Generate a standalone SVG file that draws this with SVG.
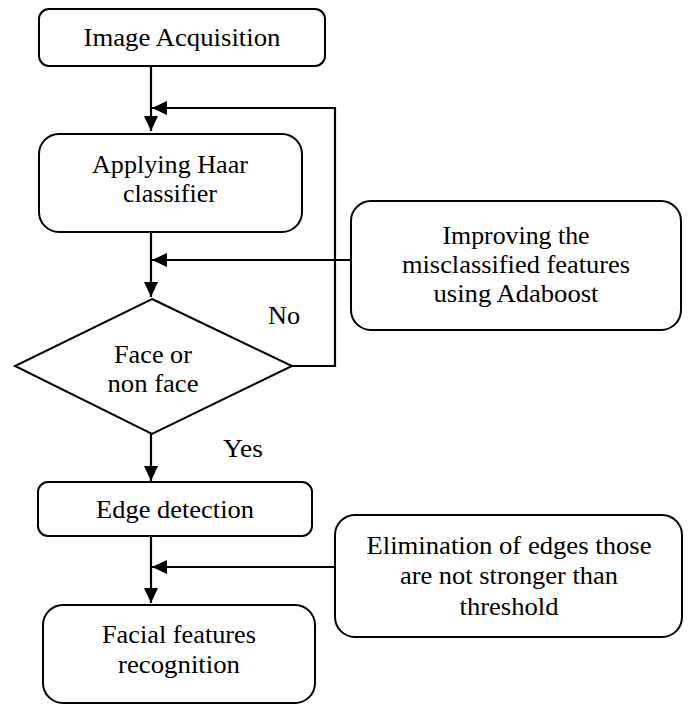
<svg xmlns="http://www.w3.org/2000/svg" width="688" height="705" viewBox="0 0 688 705" font-family="'Liberation Serif', 'DejaVu Serif', serif">
<style>
.box{fill:#fff;stroke:#000;stroke-width:2}
.t{font-size:26px;fill:#000;text-anchor:middle}
.lbl{font-size:26px;fill:#000}
.c{fill:none;stroke:#000;stroke-width:2.2}
</style>
<defs>
<marker id="ah" markerUnits="userSpaceOnUse" markerWidth="15" markerHeight="14" refX="15" refY="7" orient="auto">
<path d="M0,0 L15,7 L0,14 z" fill="#000"/>
</marker>
</defs>
<rect width="688" height="705" fill="#fff"/>
<g id="connectors">
<path class="c" d="M151,66 L151,131" marker-end="url(#ah)"/>
<path class="c" d="M151,232 L151,297" marker-end="url(#ah)"/>
<path class="c" d="M292,366 L335,366 L335,108 L152,108" marker-end="url(#ah)"/>
<path class="c" d="M351,260 L152,260" marker-end="url(#ah)"/>
<path class="c" d="M151,434 L151,481" marker-end="url(#ah)"/>
<path class="c" d="M151,536 L151,603" marker-end="url(#ah)"/>
<path class="c" d="M335,567 L152,567" marker-end="url(#ah)"/>
</g>
<g id="image-acquisition">
<rect class="box" x="39" y="9" width="286" height="57" rx="10"/>
<text class="t" x="182" y="46" textLength="197" lengthAdjust="spacingAndGlyphs">Image Acquisition</text>
</g>
<g id="haar">
<rect class="box" x="39" y="134" width="263" height="98" rx="20"/>
<text class="t" x="170" y="173" textLength="156" lengthAdjust="spacingAndGlyphs">Applying Haar</text>
<text class="t" x="170" y="202" textLength="94" lengthAdjust="spacingAndGlyphs">classifier</text>
</g>
<g id="adaboost">
<rect class="box" x="351" y="201" width="330" height="129" rx="20"/>
<text class="t" x="516" y="244" textLength="147" lengthAdjust="spacingAndGlyphs">Improving the</text>
<text class="t" x="516" y="273" textLength="228" lengthAdjust="spacingAndGlyphs">misclassified features</text>
<text class="t" x="516" y="302" textLength="165" lengthAdjust="spacingAndGlyphs">using Adaboost</text>
</g>
<g id="decision">
<polygon class="box" points="152,299 292,366 152,434 15,366"/>
<text class="t" x="153" y="363" textLength="78" lengthAdjust="spacingAndGlyphs">Face or</text>
<text class="t" x="153" y="392" textLength="91" lengthAdjust="spacingAndGlyphs">non face</text>
</g>
<g id="labels">
<text class="lbl" x="268" y="324" textLength="32" lengthAdjust="spacingAndGlyphs">No</text>
<text class="lbl" x="223" y="457" textLength="40" lengthAdjust="spacingAndGlyphs">Yes</text>
</g>
<g id="edge-detection">
<rect class="box" x="38" y="482" width="274" height="54" rx="10"/>
<text class="t" x="175" y="518" textLength="158" lengthAdjust="spacingAndGlyphs">Edge detection</text>
</g>
<g id="elimination">
<rect class="box" x="335" y="515" width="347" height="122" rx="20"/>
<text class="t" x="509" y="554" textLength="285" lengthAdjust="spacingAndGlyphs">Elimination of edges those</text>
<text class="t" x="509" y="584" textLength="218" lengthAdjust="spacingAndGlyphs">are not stronger than</text>
<text class="t" x="509" y="615" textLength="99" lengthAdjust="spacingAndGlyphs">threshold</text>
</g>
<g id="facial">
<rect class="box" x="43" y="605" width="272" height="98" rx="20"/>
<text class="t" x="179" y="643" textLength="154" lengthAdjust="spacingAndGlyphs">Facial features</text>
<text class="t" x="179" y="673" textLength="122" lengthAdjust="spacingAndGlyphs">recognition</text>
</g>
</svg>
